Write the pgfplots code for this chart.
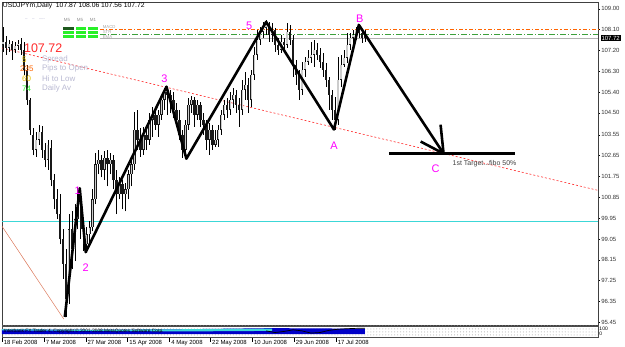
\documentclass[border=0pt]{standalone}
\usepackage{pgfplots}
\pgfplotsset{compat=1.18}
\usepackage{pgfplotstable}
\usepackage{fontspec}
\setmainfont{Liberation Sans}
\usetikzlibrary{patterns}
\definecolor{mtmag}{RGB}{255,0,255}
\definecolor{mtred}{RGB}{255,40,40}
\definecolor{mtorange}{RGB}{255,100,0}
\definecolor{mtgreen}{RGB}{60,160,60}
\definecolor{mtcyan}{RGB}{60,215,215}
\definecolor{mtlbl}{RGB}{185,185,210}
\definecolor{mtgold}{RGB}{230,190,0}
\definecolor{mtbright}{RGB}{40,240,40}
\definecolor{mtdark}{RGB}{30,90,30}
\definecolor{mtbrown}{RGB}{220,120,90}
\definecolor{mtblue}{RGB}{0,0,200}

\pgfplotstableread{
i o h l c
0 107.44 108.21 107.14 107.57
1 107.57 107.82 107.01 107.31
2 107.31 107.65 107.14 107.48
3 107.48 107.61 106.79 107.22
4 107.22 107.57 107.09 107.39
5 107.39 107.65 107.22 107.48
6 107.48 107.74 107.01 107.22
7 107.22 107.57 106.14 106.36
8 106.36 106.58 104.85 105.07
9 105.07 105.15 103.56 103.78
10 103.56 103.86 102.66 102.91
11 102.91 103.69 102.61 103.34
12 103.34 103.99 103.12 103.69
13 103.69 103.95 102.57 102.91
14 102.91 103.21 102.14 102.48
15 102.48 103.34 102.05 103.12
16 103.00 103.34 101.32 101.62
17 101.62 101.84 100.33 100.76
18 100.76 101.19 99.90 100.12
19 100.12 100.98 98.82 99.04
20 99.04 99.47 97.32 97.96
21 97.96 98.61 95.68 96.45
22 96.67 100.12 96.24 99.47
23 99.47 100.24 97.75 98.61
24 98.61 100.55 98.09 99.90
25 99.90 101.28 99.47 100.76
26 100.76 100.98 99.04 99.47
27 99.47 99.81 98.52 98.82
28 98.82 99.55 98.61 99.25
29 99.25 99.81 98.91 99.55
30 99.55 101.19 99.38 100.76
31 100.76 102.78 100.55 102.27
32 102.27 102.91 101.84 102.48
33 102.48 102.70 101.71 102.05
34 102.05 102.83 101.62 102.57
35 102.57 102.91 101.32 102.27
36 102.27 102.78 101.84 102.48
37 102.48 102.70 101.19 101.62
38 101.62 102.05 100.12 100.98
39 100.98 101.71 100.76 101.41
40 101.41 101.62 100.33 100.98
41 100.98 101.49 100.24 101.19
42 101.19 102.05 100.76 101.84
43 101.84 102.48 101.32 102.27
44 102.27 104.55 102.05 103.78
45 103.78 104.64 102.91 103.34
46 103.34 103.86 102.61 102.91
47 102.91 103.90 102.70 103.56
48 103.56 103.86 102.91 103.34
49 103.34 104.51 103.12 104.21
50 104.21 104.77 103.47 104.42
51 104.42 104.72 103.78 103.99
52 103.99 104.64 103.47 104.42
53 104.42 105.28 104.21 105.07
54 105.07 105.58 104.64 105.41
55 105.41 105.58 104.42 105.28
56 105.28 105.50 104.51 105.07
57 105.07 105.41 104.29 104.64
58 104.64 104.94 103.90 104.21
59 104.21 104.64 103.34 103.56
60 103.56 103.78 102.57 102.91
61 102.91 104.21 102.66 103.99
62 103.99 105.15 103.78 104.85
63 104.85 105.24 104.51 105.07
64 105.07 105.20 103.90 104.42
65 104.42 105.07 104.21 104.85
66 104.85 104.98 103.90 104.21
67 104.21 104.51 103.56 103.99
68 103.99 104.21 102.91 103.34
69 103.34 104.08 102.70 103.78
70 103.78 103.99 102.91 103.12
71 103.12 103.78 103.04 103.34
72 103.34 103.99 103.04 103.78
73 103.78 104.64 103.56 104.42
74 104.42 105.07 104.21 104.85
75 104.85 105.15 104.29 104.64
76 104.64 105.41 104.42 105.07
77 105.07 105.58 104.72 105.28
78 105.28 105.50 104.51 104.85
79 104.85 105.15 103.90 104.64
80 104.64 105.93 104.42 105.50
81 105.50 106.27 105.07 105.71
82 105.71 106.02 104.51 105.07
83 105.07 106.36 104.77 106.14
84 106.14 107.35 105.93 107.01
85 107.01 108.08 106.79 107.65
86 107.65 108.21 107.44 108.00
87 108.00 108.43 107.74 108.17
88 108.17 108.51 107.87 108.30
89 108.30 108.43 107.57 107.87
90 107.87 108.38 107.57 108.08
91 108.08 108.17 107.14 107.44
92 107.44 107.74 107.01 107.22
93 107.22 107.87 107.09 107.57
94 107.57 107.74 107.22 107.44
95 107.44 108.38 107.31 108.00
96 108.00 108.30 107.44 107.65
97 107.65 107.87 106.06 106.58
98 106.58 106.79 105.71 106.14
99 106.14 106.36 105.07 105.50
100 105.50 106.70 105.28 106.36
101 106.36 106.92 106.06 106.70
102 106.70 107.22 106.58 106.88
103 106.88 107.57 106.66 107.01
104 107.01 107.65 106.49 107.22
105 107.22 107.52 106.79 107.01
106 107.01 107.31 106.45 106.70
107 106.70 107.09 106.06 106.36
108 106.36 106.66 105.63 105.93
109 105.93 106.06 104.64 105.28
110 105.28 105.50 104.21 104.64
111 104.64 105.20 103.78 104.21
112 104.21 106.92 103.99 105.93
113 105.93 107.01 105.63 106.58
114 106.58 107.22 106.49 106.88
115 106.88 107.95 106.66 107.44
116 107.44 107.95 107.22 107.74
117 107.74 108.08 107.52 107.87
118 107.87 108.21 107.65 108.08
119 108.08 108.25 107.74 107.95
120 107.95 108.08 107.52 107.74
121 107.87 108.06 107.56 107.72
}\bars

\begin{document}
\begin{tikzpicture}
\begin{axis}[
  name=main,
  scale only axis,
  width=598pt, height=324pt,
  xmin=-0.33, xmax=199, ymin=95.335, ymax=109.29,
  axis line style={black!75, line width=0.6pt},
  xtick=\empty,
  ytick={109,108.1,107.2,106.3,105.4,104.5,103.55,102.65,101.75,100.85,99.95,99.05,98.15,97.25,96.35,95.45},
  yticklabels={109.00,108.10,107.20,106.30,105.40,104.50,103.55,102.65,101.75,100.85,99.95,99.05,98.15,97.25,96.35,95.45},
  ytick pos=right, yticklabel pos=right,
  tick align=outside, major tick length=2pt,
  tick style={black, line width=0.4pt},
  yticklabel style={font=\fontsize{6}{7}\selectfont, inner sep=1pt, text=black!80},
  clip=false,
]
% reference lines
\addplot[mtcyan, line width=0.8pt] coordinates {(-0.33,99.83) (199,99.83)};
\addplot[mtred, line width=0.6pt, dash pattern=on 2pt off 2pt] coordinates {(-0.33,107.30) (199,101.15)};
\addplot[mtbrown, line width=0.5pt] coordinates {(-0.33,99.60) (20.33,95.59)};
\addplot[mtorange, line width=1.2pt, dash pattern=on 4pt off 2pt on 1.5pt off 2pt] coordinates {(32.3,108.11) (199,108.11)};
\addplot[mtgreen, line width=0.8pt, dash pattern=on 6pt off 2pt on 1pt off 2pt] coordinates {(32.3,107.90) (199,107.90)};
\addplot[black!30, line width=0.5pt] coordinates {(32.3,107.72) (199,107.72)};
% wicks
\addplot[draw=none, mark=none, forget plot,
  error bars/.cd, y dir=plus, y explicit, error mark=none,
  error bar style={draw=black, line width=0.5pt, solid}]
  table[x=i, y=l, y error plus expr=\thisrow{h}-\thisrow{l}] {\bars};
% all bodies (black)
\addplot[draw=none, mark=none, forget plot,
  error bars/.cd, y dir=plus, y explicit, error mark=none,
  error bar style={draw=black!90, line width=2.4pt, solid, line cap=butt}]
  table[x=i, y expr={min(\thisrow{o},\thisrow{c})}, y error plus expr={abs(\thisrow{c}-\thisrow{o})}] {\bars};
% up bodies: light interior
\addplot[draw=none, mark=none, forget plot,
  error bars/.cd, y dir=plus, y explicit, error mark=none,
  error bar style={draw=gray!40, line width=1.3pt, solid, line cap=butt}]
  table[x=i, y expr={\thisrow{o}+0.02}, y error plus expr={max(\thisrow{c}-\thisrow{o}-0.04,0)}] {\bars};
% zigzag wave
\addplot[black, line width=2.6pt, line join=round] coordinates {
(20.67,95.68) (25.67,101.24) (27.67,98.48) (54.67,105.63) (61.33,102.52)
(88,108.43) (110.67,103.78) (119,108.30) (147.33,102.74)};
\addplot[black, line width=2.6pt, line join=round] coordinates {(146.33,103.99) (147.33,102.74) (139.67,103.26)};
\addplot[black, line width=2.2pt] coordinates {(129,102.74) (171.33,102.74)};
% wave labels
\node[text=mtmag, font=\fontsize{11}{11}\selectfont] at (axis cs:25,101.15) {1};
\node[text=mtmag, font=\fontsize{11}{11}\selectfont] at (axis cs:27.67,97.83) {2};
\node[text=mtmag, font=\fontsize{11}{11}\selectfont] at (axis cs:54,105.97) {3};
\node[text=mtmag, font=\fontsize{11}{11}\selectfont] at (axis cs:82.33,108.25) {5};
\node[text=mtmag, font=\fontsize{11}{11}\selectfont] at (axis cs:110.67,103.09) {A};
\node[text=mtmag, font=\fontsize{11}{11}\selectfont] at (axis cs:119.33,108.56) {B};
\node[text=mtmag, font=\fontsize{11}{11}\selectfont] at (axis cs:144.67,102.10) {C};
\node[anchor=west, inner sep=0pt, text=black!75, font=\fontsize{7}{8}\selectfont] at (axis cs:150.33,102.31) {1st Target...fibo 50\%};
% header
\node[anchor=west, inner sep=0pt, font=\fontsize{6.8}{7}\selectfont] at (axis cs:-0.1,109.117) {USDJPYm,Daily\ \ 107.87 108.06 107.56 107.72};
% info panel
\node[anchor=west, inner sep=0pt, text=mtred, font=\fontsize{12.5}{13}\selectfont] at (axis cs:7,107.29) {107.72};
\node[anchor=west, inner sep=0pt, text=mtgold, font=\fontsize{8}{8}\selectfont] at (axis cs:6.33,106.81) {5};
\node[anchor=west, inner sep=0pt, text=mtorange, font=\fontsize{8}{8}\selectfont] at (axis cs:5.67,106.40) {235};
\node[anchor=west, inner sep=0pt, text=mtgold, font=\fontsize{8}{8}\selectfont] at (axis cs:6.33,105.97) {60};
\node[anchor=west, inner sep=0pt, text=mtbright, font=\fontsize{8}{8}\selectfont] at (axis cs:6.33,105.54) {74};
\node[anchor=west, inner sep=0pt, text=mtlbl, font=\fontsize{8}{8}\selectfont] at (axis cs:13,106.81) {Spread};
\node[anchor=west, inner sep=0pt, text=mtlbl, font=\fontsize{8}{8}\selectfont] at (axis cs:13,106.40) {Pips to Open};
\node[anchor=west, inner sep=0pt, text=mtlbl, font=\fontsize{8}{8}\selectfont] at (axis cs:13,105.97) {Hi to Low};
\node[anchor=west, inner sep=0pt, text=mtlbl, font=\fontsize{8}{8}\selectfont] at (axis cs:13,105.54) {Daily Av};
% signal bars panel
\node[anchor=west, inner sep=0pt, text=mtlbl, font=\fontsize{4.5}{5}\selectfont] at (axis cs:7.33,108.51) {--\quad --\quad ----};
\node[anchor=west, inner sep=0pt, text=black!45, font=\fontsize{4.5}{5}\selectfont] at (axis cs:20.33,108.51) {M5};
\node[anchor=west, inner sep=0pt, text=black!45, font=\fontsize{4.5}{5}\selectfont] at (axis cs:24.67,108.51) {M5};
\node[anchor=west, inner sep=0pt, text=black!45, font=\fontsize{4.5}{5}\selectfont] at (axis cs:29,108.51) {M1};
\fill[mtdark] (axis cs:20,108.06) rectangle (axis cs:23.67,108.19);
\fill[mtbright] (axis cs:24.33,108.06) rectangle (axis cs:27.67,108.19);
\fill[mtbright] (axis cs:28.33,108.06) rectangle (axis cs:31.67,108.19);
\fill[mtbright] (axis cs:20,107.89) rectangle (axis cs:23.67,108.02);
\fill[mtbright] (axis cs:24.33,107.89) rectangle (axis cs:27.67,108.02);
\fill[mtbright] (axis cs:28.33,107.89) rectangle (axis cs:31.67,108.02);
\fill[mtbright] (axis cs:20,107.72) rectangle (axis cs:23.67,107.85);
\fill[mtbright] (axis cs:24.33,107.72) rectangle (axis cs:27.67,107.85);
\fill[mtbright] (axis cs:28.33,107.72) rectangle (axis cs:31.67,107.85);
\node[anchor=west, inner sep=0pt, text=black!35, font=\fontsize{4.3}{5}\selectfont] at (axis cs:33.33,108.19) {MACD};
\node[anchor=west, inner sep=0pt, text=black!35, font=\fontsize{4.3}{5}\selectfont] at (axis cs:33.33,107.98) {STR};
\node[anchor=west, inner sep=0pt, text=black!35, font=\fontsize{4.3}{5}\selectfont] at (axis cs:33.33,107.76) {EMA};
% current price tag
\node[fill=black, text=white, inner sep=0.8pt, font=\fontsize{6}{7}\selectfont] at (axis cs:203.2,107.72) {107.72};
\end{axis}

% indicator sub-window
\begin{axis}[
  at={(main.south west)}, anchor=north west, yshift=-1pt,
  scale only axis,
  width=598pt, height=11pt,
  xmin=-0.33, xmax=199, ymin=0, ymax=1,
  axis background/.style={fill=white, postaction={pattern=dots, pattern color=gray!70}},
  axis line style={black!70, line width=0.6pt},
  ytick=\empty,
  xtick={-0.33,13.67,27.67,41.67,55.67,69.33,83.33,97.33,111.33},
  xticklabels={18 Feb 2008,7 Mar 2008,27 Mar 2008,15 Apr 2008,4 May 2008,22 May 2008,10 Jun 2008,29 Jun 2008,17 Jul 2008},
  xtick pos=bottom, tick align=outside, major tick length=5pt,
  tick style={black, line width=0.4pt},
  xticklabel style={anchor=north west, font=\fontsize{6}{7}\selectfont, inner sep=0.5pt, xshift=1.2pt, yshift=2pt},
  clip=false,
]
\addplot[fill=mtblue, draw=none] coordinates {(-0.33,0.25) (121,0.25) (121,0.75) (90,0.8) (60,0.7) (30,0.65) (-0.33,0.7)} -- cycle;
\addplot[fill=mtcyan, draw=none] coordinates {(-0.33,0.6) (30,0.55) (60,0.5) (90,0.55) (90,0.75) (60,0.7) (30,0.65) (-0.33,0.7)} -- cycle;
\addplot[black, line width=0.7pt] coordinates {(88,0.55) (91,0.4) (94,0.5) (97,0.65) (100,0.55) (103,0.35) (106,0.4) (109,0.6) (112,0.7) (115,0.75) (118,0.78) (121,0.8)};
\node[anchor=west, inner sep=0pt, font=\fontsize{4.8}{5}\selectfont] at (axis cs:0.3,0.5) {Interbank FX Trader 4, Copyright \textcopyright{} 2001-2008 MetaQuotes Software Corp.};
\node[anchor=west, inner sep=0pt, font=\fontsize{5}{5}\selectfont] at (axis cs:199.4,0.75) {100};
\node[anchor=west, inner sep=0pt, font=\fontsize{5}{5}\selectfont] at (axis cs:199.4,0.25) {0};
\end{axis}
\pgfresetboundingbox
\path[use as bounding box] ([xshift=-2pt,yshift=-22pt]main.south west) rectangle ([xshift=625pt,yshift=2pt]main.north west);
\end{tikzpicture}
\end{document}
